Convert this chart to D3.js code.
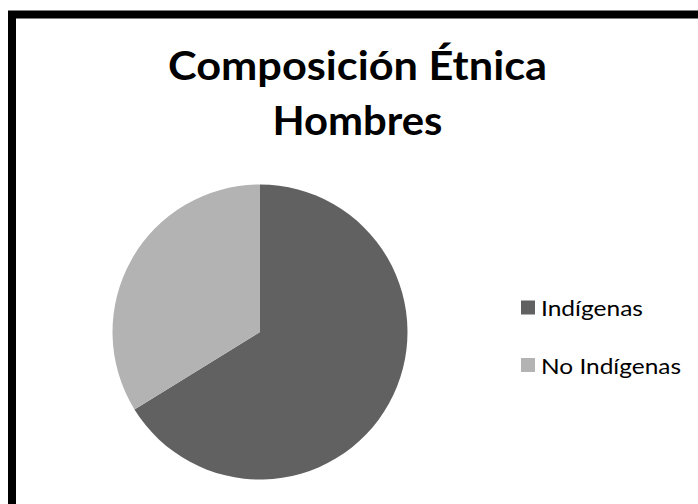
<!DOCTYPE html>
<html>
<head>
<meta charset="utf-8">
<script src="https://cdn.jsdelivr.net/npm/d3@7"></script>
<style>
  html, body { margin: 0; padding: 0; background: #fff; }
  svg { display: block; }
</style>
</head>
<body>
<svg id="chart" width="698" height="504"></svg>
<script>
const titleLines = ["Composición Étnica", "Hombres"];
const categories = ["Indígenas", "No Indígenas"];
const values = [66.2, 33.8];
const colors = ["#616161", "#b3b3b3"];

const svg = d3.select("#chart");

// Outer frame (extends beyond the visible area on the right and bottom)
svg.append("rect")
  .attr("x", 12).attr("y", 14.5)
  .attr("width", 720).attr("height", 520)
  .attr("fill", "#fff")
  .attr("stroke", "#000").attr("stroke-width", 8);

// Title
const titleFont = "Lato, 'Open Sans', sans-serif";
const baselines = [80, 135];
const titleWidths = [379, 170];
svg.append("g")
  .selectAll("text")
  .data(titleLines)
  .join("text")
  .attr("x", 357.5)
  .attr("y", (d, i) => baselines[i])
  .attr("text-anchor", "middle")
  .attr("font-family", titleFont)
  .attr("font-weight", "bold")
  .attr("font-size", 40)
  .attr("textLength", (d, i) => titleWidths[i])
  .attr("lengthAdjust", "spacingAndGlyphs")
  .attr("fill", "#000")
  .text(d => d);

// Pie
const cx = 260, cy = 332, r = 147.5;
const pie = d3.pie().sort(null).value(d => d)(values);
const arc = d3.arc().innerRadius(0).outerRadius(r);
const color = d3.scaleOrdinal().domain(categories).range(colors);

svg.append("g")
  .attr("transform", `translate(${cx},${cy})`)
  .selectAll("path")
  .data(pie)
  .join("path")
  .attr("d", arc)
  .attr("fill", (d, i) => color(categories[i]));

// Legend
const legendY = d3.scalePoint().domain(categories).range([308, 365.5]);
const legendWidths = [102, 140];
const items = svg.append("g")
  .selectAll("g")
  .data(categories)
  .join("g")
  .attr("transform", d => `translate(521,${legendY(d)})`);
items.append("rect")
  .attr("x", 0).attr("y", -7.5)
  .attr("width", 14).attr("height", 14)
  .attr("fill", d => color(d));
items.append("text")
  .attr("x", 20).attr("y", 8)
  .attr("font-family", "Lato, 'Open Sans', sans-serif")
  .attr("font-size", 22)
  .attr("textLength", (d, i) => legendWidths[i])
  .attr("lengthAdjust", "spacingAndGlyphs")
  .attr("fill", "#000")
  .text(d => d);
</script>
</body>
</html>
